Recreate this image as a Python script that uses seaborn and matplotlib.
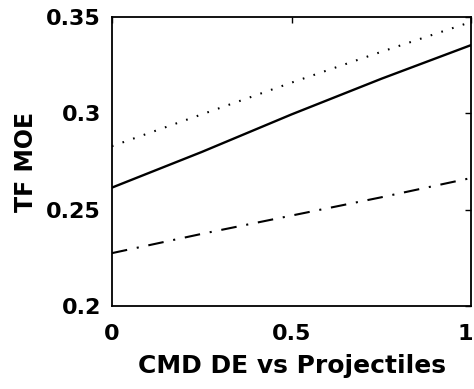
import matplotlib
matplotlib.use("Agg")
import matplotlib.pyplot as plt
import matplotlib.transforms as mtransforms
import seaborn as sns
import pandas as pd

# Sensitivity of TF MOE to the CMD DE vs Projectiles weighting
x_vals = [0.0, 0.25, 0.5, 0.75, 1.0]
solid_vals = [0.2615, 0.280, 0.2995, 0.318, 0.3355]
dotted_vals = [0.283, 0.2995, 0.316, 0.332, 0.3475]
dashdot_vals = [0.2275, 0.2375, 0.247, 0.2565, 0.2665]

x_ticks = [0, 0.5, 1]
x_tick_labels = ["0", "0.5", "1"]
y_ticks = [0.2, 0.25, 0.3, 0.35]
y_tick_labels = ["0.2", "0.25", "0.3", "0.35"]

sns.set_style("white")
plt.rcParams["font.family"] = ["DejaVu Sans"]
plt.rcParams["font.weight"] = "bold"
plt.rcParams["axes.labelcolor"] = "black"
plt.rcParams["text.color"] = "black"

fig = plt.figure(figsize=(4.74, 3.89), dpi=100)
ax = fig.add_axes([0.236, 0.213, 0.758, 0.743])

df = pd.DataFrame({"x": x_vals, "solid": solid_vals,
                   "dotted": dotted_vals, "dashdot": dashdot_vals})

sns.lineplot(data=df, x="x", y="solid", ax=ax, color="black", lw=1.7)
sns.lineplot(data=df, x="x", y="dotted", ax=ax, color="black", lw=1.5,
             linestyle=(0, (0.8, 4.6)))
sns.lineplot(data=df, x="x", y="dashdot", ax=ax, color="black", lw=1.5,
             linestyle=(0, (7.5, 4.7, 1.0, 4.7)))

ax.set_xlim(0, 1)
ax.set_ylim(0.2, 0.35)
ax.set_xticks(x_ticks)
ax.set_xticklabels(x_tick_labels)
ax.set_yticks(y_ticks)
ax.set_yticklabels(y_tick_labels)
ax.tick_params(direction="in", length=4, width=1, top=True, right=True,
               labelsize=16, colors="black", labelcolor="black")
ax.tick_params(axis="x", pad=13)
ax.tick_params(axis="y", pad=8)
for lbl in ax.get_xticklabels() + ax.get_yticklabels():
    lbl.set_fontweight("bold")

# keep the rightmost x tick label inside the figure
last = ax.get_xticklabels()[-1]
last.set_transform(last.get_transform() +
                   mtransforms.ScaledTranslation(-4 / 72, 0, fig.dpi_scale_trans))

for s in ax.spines.values():
    s.set_visible(True)
    s.set_color("black")
    s.set_linewidth(1.3)

ax.set_xlabel("CMD DE vs Projectiles", fontsize=18, fontweight="bold",
              labelpad=7, color="black")
ax.set_ylabel("TF MOE", fontsize=17, fontweight="bold", labelpad=6,
              color="black")

fig.savefig("out.png", dpi=100, facecolor="white")
